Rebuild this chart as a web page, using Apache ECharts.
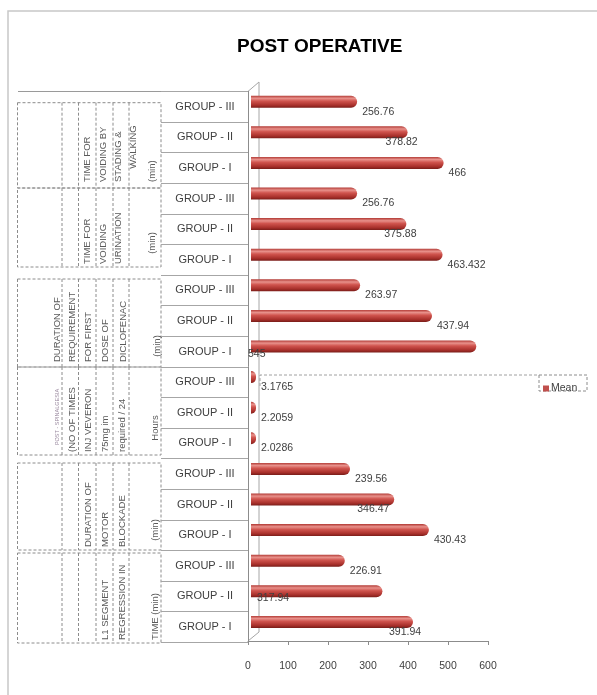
<!DOCTYPE html>
<html>
<head>
<meta charset="utf-8">
<script src="https://cdn.jsdelivr.net/npm/echarts@6/dist/echarts.min.js"></script>
<style>
html,body{margin:0;padding:0;background:#fff;}
#chart{width:597px;height:695px;}
</style>
</head>
<body>
<div id="chart"></div>
<script>
// ---------- data ----------
const chartTitle = 'POST OPERATIVE';
const seriesName = 'Mean';
const categories = [
  'GROUP - III','GROUP - II','GROUP - I',
  'GROUP - III','GROUP - II','GROUP - I',
  'GROUP - III','GROUP - II','GROUP - I',
  'GROUP - III','GROUP - II','GROUP - I',
  'GROUP - III','GROUP - II','GROUP - I',
  'GROUP - III','GROUP - II','GROUP - I'
];
const meanValues = [
  256.76, 378.82, 466,
  256.76, 375.88, 463.432,
  263.97, 437.94, 545,
  3.1765, 2.2059, 2.0286,
  239.56, 346.47, 430.43,
  226.91, 317.94, 391.94
];
const valueTicks = [0, 100, 200, 300, 400, 500, 600];
// parameter text (one entry per block of three groups, top to bottom)
const paramLines = [
  ['TIME FOR', 'VOIDING BY', 'STADING &', 'WALKING', '(min)'],
  ['TIME FOR', 'VOIDING', 'URINATION', '(min)'],
  ['DURATION OF', 'REQUIREMENT', 'FOR FIRST', 'DOSE OF', 'DICLOFENAC', '(min)'],
  ['POST - SPINALGESIA', '(NO OF TIMES', 'INJ VEVERON', '75mg im', 'required / 24', 'Hours'],
  ['DURATION OF', 'MOTOR', 'BLOCKADE', '(min)'],
  ['L1 SEGMENT', 'REGRESSION IN', 'TIME (min)']
];

// ---------- layout (not data) ----------
const FONT = 'Liberation Sans, Arial, sans-serif';
const rowTop = 91.4, rowsH = 550.8;
const blockBoxes = [[102.7,188],[188,267],[279,367],[367,455],[463,550],[553,643]];
const tableCols = [17.5, 62, 78.5, 96, 113, 129, 161];
// per line: [x, y, mode] mode 'b' = bottom anchored, 'c' = centered, 's' = small centered
const lineLayout = [
  [[87,182,'b'],[103,182,'b'],[118,182,'b'],[133,147,'c'],[152,182,'b']],
  [[87,264,'b'],[103,264,'b'],[118,264,'b'],[152,243,'c']],
  [[57,362,'b'],[72,362,'b'],[88,362,'b'],[105,362,'b'],[123,362,'b'],[157,346,'c']],
  [[57,417,'s'],[72,452,'b'],[88,452,'b'],[105,452,'b'],[122,452,'b'],[155,428,'c']],
  [[88,547,'b'],[105,547,'b'],[122,547,'b'],[155,530,'c']],
  [[105,640,'b'],[122,640,'b'],[155,640,'b']]
];

const graphics = [];
// outer chart frame
graphics.push({type:'rect', shape:{x:8, y:11, width:620, height:720}, style:{fill:null, stroke:'#c8c8c8', lineWidth:1.5}, silent:true});
// top line of table
graphics.push({type:'line', shape:{x1:18, y1:91.5, x2:161, y2:91.5}, style:{stroke:'#9a9a9a', lineWidth:1}});
// table boxes
blockBoxes.forEach(function(b){
  graphics.push({type:'rect', shape:{x:tableCols[0], y:b[0], width:tableCols[6]-tableCols[0], height:b[1]-b[0]},
    style:{fill:null, stroke:'#8c8c8c', lineWidth:1, lineDash:[3,2]}});
  for (let c = 1; c < tableCols.length - 1; c++) {
    graphics.push({type:'line', shape:{x1:tableCols[c], y1:b[0], x2:tableCols[c], y2:b[1]},
      style:{stroke:'#8c8c8c', lineWidth:1, lineDash:[3,2]}});
  }
});
// table text
paramLines.forEach(function(lines, gi){
  lines.forEach(function(t, li){
    const L = lineLayout[gi][li];
    const small = L[2] === 's';
    graphics.push({type:'text', x:L[0], y:L[1], rotation:Math.PI/2,
      style:{text:t, fill: small ? '#9b8aa0' : '#5a5a5a', font:(small ? '5.5px ' : '9.5px ') + FONT,
        align: L[2] === 'b' ? 'left' : 'center', verticalAlign:'middle'}});
  });
});
// 3D wall edges
graphics.push({type:'polyline', shape:{points:[[248,91.4],[259,82],[259,632],[248,641]]}, style:{fill:null, stroke:'#a6a6a6', lineWidth:1}});
// legend frame + selection line
graphics.push({type:'polyline', shape:{points:[[260,386],[260,375],[539,375]]}, style:{fill:null, stroke:'#a0a0a0', lineWidth:1, lineDash:[3,2]}});
graphics.push({type:'rect', shape:{x:539, y:375, width:48, height:16}, style:{fill:null, stroke:'#8c8c8c', lineWidth:1, lineDash:[3,2]}});

// ---------- bar data items with label placement ----------
const shiftRight = {1:-27, 4:-27, 13:-42, 17:-29};
const barData = meanValues.map(function(v, i){
  const item = {value: v};
  if (i === 8) item.label = {position:'insideLeft', offset:[-8, 8]};
  else if (i === 16) item.label = {position:'insideLeft', offset:[1, 7]};
  else if (shiftRight[i] !== undefined) item.label = {offset:[shiftRight[i], 10]};
  return item;
});

const barColor = new echarts.graphic.LinearGradient(0, 0, 0, 1, [
  {offset:0, color:'#b23a35'},
  {offset:0.22, color:'#e8918b'},
  {offset:0.45, color:'#d0544e'},
  {offset:0.8, color:'#a8302b'},
  {offset:1, color:'#7a1d19'}
]);

const chart = echarts.init(document.getElementById('chart'));
chart.setOption({
  animation:false,
  backgroundColor:'#ffffff',
  title:{text:chartTitle, left:232, top:32, textStyle:{fontFamily:FONT, fontSize:19, fontWeight:'bold', color:'#000'}},
  legend:{
    data:[{name:seriesName, itemStyle:{color:'#c0504d'}}],
    left:538, top:378, itemWidth:6, itemHeight:6, itemGap:2,
    icon:'rect',
    textStyle:{fontFamily:FONT, fontSize:10.5, color:'#404040', padding:[0,0,0,-3]}
  },
  grid:[
    {left:161, top:rowTop, width:87, height:rowsH},
    {left:251, top:rowTop-5, width:248, height:rowsH},
    {left:248, top:rowTop, width:240, height:641-rowTop},
    {left:259, top:82, width:240, height:550}
  ],
  xAxis:[
    {gridIndex:0, type:'value', show:false, min:0, max:600},
    {gridIndex:1, type:'value', show:false, min:0, max:600},
    {gridIndex:2, type:'value', min:valueTicks[0], max:valueTicks[valueTicks.length-1], interval:valueTicks[1]-valueTicks[0],
      axisLine:{show:true, lineStyle:{color:'#8c8c8c'}},
      axisTick:{show:true, length:4, lineStyle:{color:'#8c8c8c'}},
      axisLabel:{margin:20, fontFamily:FONT, fontSize:10.5, color:'#404040'},
      splitLine:{show:false}},
    {gridIndex:3, type:'value', show:false, min:0, max:600}
  ],
  yAxis:[
    {gridIndex:0, type:'category', data:categories, inverse:true,
      axisLine:{show:false}, axisTick:{show:false},
      axisLabel:{inside:true, margin:44, align:'center', fontFamily:FONT, fontSize:11, color:'#404040'},
      splitLine:{show:true, lineStyle:{color:'#a6a6a6', width:1}}},
    {gridIndex:1, type:'category', data:categories, inverse:true, show:false},
    {gridIndex:2, type:'category', data:categories, inverse:true,
      axisLine:{show:true, lineStyle:{color:'#8c8c8c'}}, axisTick:{show:false}, axisLabel:{show:false}, splitLine:{show:false}},
    {gridIndex:3, type:'category', data:categories, inverse:true, show:false}
  ],
  series:[{
    name:seriesName, type:'bar', xAxisIndex:1, yAxisIndex:1,
    data:barData, barWidth:12, barMinHeight:5,
    itemStyle:{color:barColor, borderRadius:[0,6,6,0]},
    label:{show:true, position:'right', distance:5, offset:[0,10], fontFamily:FONT, fontSize:10.5, color:'#404040'}
  }],
  graphic:graphics
});
</script>
</body>
</html>
